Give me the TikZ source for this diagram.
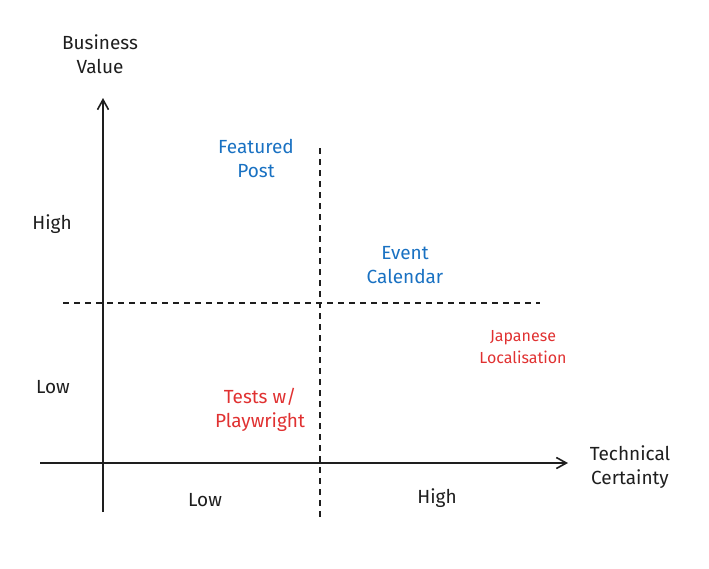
\documentclass[tikz,border=0pt]{standalone}
\usepackage{fontspec}
\setmainfont{Fira Sans}
\usetikzlibrary{arrows.meta}
\definecolor{exblue}{HTML}{1971C2}
\definecolor{exred}{HTML}{E03131}
\definecolor{ink}{HTML}{1E1E1E}
\begin{document}
\begin{tikzpicture}[x=1pt,y=-1pt,
  axis/.style={draw=ink,line width=1.6pt,-{Straight Barb[length=10pt,width=11pt]}},
  divider/.style={draw=ink,line width=1.4pt,dash pattern=on 6pt off 5pt},
  lbl/.style={text=ink,align=center,font=\fontsize{19}{24}\selectfont},
  bluetxt/.style={text=exblue,align=center,font=\fontsize{19}{24}\selectfont},
  redtxt/.style={text=exred,align=center,font=\fontsize{19}{24}\selectfont}]
\useasboundingbox (0,0) rectangle (709,568);
\coordinate (vb) at (103,512); \coordinate (vt) at (103,98);
\coordinate (hl) at (40,463); \coordinate (hr) at (568,463);
\coordinate (dvt) at (320,148); \coordinate (dvb) at (320,518);
\coordinate (dhl) at (63,303); \coordinate (dhr) at (540,303);
\draw[axis] (vb) -- (vt);
\draw[axis] (hl) -- (hr);
\draw[divider] (dvt) -- (dvb);
\draw[divider] (dhl) -- (dhr);
\node[lbl] (bv) at (100,54) {Business\\Value};
\node[lbl] (tc) at (630,467) {Technical\\Certainty};
\node[lbl] (yh) at (52,224) {High};
\node[lbl] (yl) at (53,387) {Low};
\node[lbl] (xl) at (205,500) {Low};
\node[lbl] (xh) at (437,498) {High};
\node[bluetxt] (fp) at (256,158) {Featured\\Post};
\node[bluetxt] (ec) at (405,265) {Event\\Calendar};
\node[redtxt,font=\fontsize{16}{22}\selectfont] (jl) at (523,347) {Japanese\\Localisation};
\node[redtxt] (tp) at (260,410) {Tests w/\\Playwright};
\end{tikzpicture}
\end{document}
